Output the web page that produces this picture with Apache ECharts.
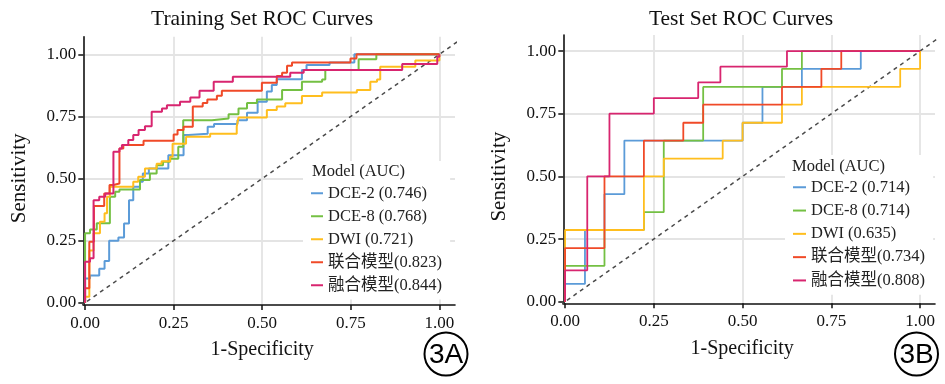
<!DOCTYPE html>
<html><head><meta charset="utf-8">
<script src="https://cdn.jsdelivr.net/npm/echarts@6/dist/echarts.min.js"></script>
<style>html,body{margin:0;padding:0;background:#fff}#c{width:945px;height:384px}</style>
</head><body><div id="c"></div>
<script>
// ---------- DATA ----------
const tickValues = [0, 0.25, 0.5, 0.75, 1];
const trainNames = ['DCE-2 (0.746)', 'DCE-8 (0.768)', 'DWI (0.721)', '联合模型(0.823)', '融合模型(0.844)'];
const testNames  = ['DCE-2 (0.714)', 'DCE-8 (0.714)', 'DWI (0.635)', '联合模型(0.734)', '融合模型(0.808)'];

// Training set ROC corner points (FPR, TPR) after each vertical rise
const trainFprDCE2 = [0, 0, 0.014, 0.040, 0.055, 0.068, 0.094, 0.110, 0.124, 0.136, 0.155, 0.163, 0.180, 0.235, 0.278, 0.292, 0.346, 0.364, 0.430, 0.457, 0.487, 0.513, 0.527, 0.541, 0.612, 0.625, 0.690, 0.760, 1.0];
const trainTprDCE2 = [0, 0.098, 0.110, 0.137, 0.168, 0.250, 0.263, 0.319, 0.413, 0.467, 0.487, 0.520, 0.540, 0.594, 0.675, 0.680, 0.709, 0.720, 0.735, 0.765, 0.809, 0.850, 0.877, 0.900, 0.937, 0.957, 0.967, 1.0, 1.0];
const trainFprDCE8 = [0, 0, 0.014, 0.033, 0.070, 0.085, 0.097, 0.155, 0.183, 0.202, 0.220, 0.240, 0.263, 0.277, 0.358, 0.405, 0.433, 0.457, 0.485, 0.556, 0.612, 0.669, 0.678, 0.772, 0.822, 1.0];
const trainTprDCE8 = [0, 0.280, 0.295, 0.320, 0.427, 0.447, 0.456, 0.494, 0.520, 0.554, 0.568, 0.580, 0.628, 0.735, 0.742, 0.759, 0.782, 0.804, 0.818, 0.856, 0.890, 0.899, 0.937, 0.980, 1.0, 1.0];
const trainFprDWI  = [0, 0, 0.012, 0.024, 0.042, 0.055, 0.062, 0.070, 0.136, 0.150, 0.169, 0.202, 0.216, 0.240, 0.247, 0.285, 0.353, 0.428, 0.433, 0.513, 0.541, 0.565, 0.612, 0.669, 0.767, 0.805, 0.824, 0.833, 0.932, 1.0];
const trainTprDWI  = [0, 0.024, 0.210, 0.280, 0.326, 0.360, 0.427, 0.467, 0.487, 0.507, 0.540, 0.560, 0.570, 0.588, 0.640, 0.668, 0.680, 0.709, 0.746, 0.776, 0.790, 0.803, 0.832, 0.846, 0.856, 0.890, 0.899, 0.950, 0.975, 1.0];
const trainFprComb = [0, 0, 0.012, 0.025, 0.054, 0.069, 0.080, 0.097, 0.108, 0.165, 0.250, 0.261, 0.278, 0.304, 0.332, 0.345, 0.372, 0.386, 0.499, 0.541, 0.556, 0.570, 0.584, 0.749, 0.766, 1.0];
const trainTprComb = [0, 0.058, 0.246, 0.390, 0.440, 0.474, 0.480, 0.621, 0.635, 0.652, 0.677, 0.695, 0.709, 0.790, 0.804, 0.818, 0.833, 0.853, 0.886, 0.913, 0.926, 0.954, 0.967, 0.983, 1.0, 1.0];
const trainFprFuse = [0, 0, 0.014, 0.024, 0.040, 0.057, 0.080, 0.097, 0.104, 0.122, 0.136, 0.151, 0.169, 0.188, 0.217, 0.231, 0.268, 0.297, 0.323, 0.363, 0.417, 0.579, 0.617, 0.895, 0.994, 1.0];
const trainTprFuse = [0, 0.165, 0.179, 0.413, 0.427, 0.440, 0.608, 0.621, 0.635, 0.655, 0.675, 0.695, 0.711, 0.769, 0.782, 0.795, 0.809, 0.826, 0.853, 0.890, 0.910, 0.926, 0.937, 0.961, 0.990, 1.0];

// Test set ROC corner points
const testFprDCE2 = [0, 0, 0.056, 0.111, 0.167, 0.500, 0.556, 0.667, 0.833, 1.0];
const testTprDCE2 = [0, 0.071, 0.286, 0.429, 0.643, 0.714, 0.857, 0.929, 1.0, 1.0];
const testFprDCE8 = [0, 0, 0.111, 0.222, 0.278, 0.389, 0.611, 0.667, 1.0];
const testTprDCE8 = [0, 0.143, 0.286, 0.357, 0.643, 0.857, 0.929, 1.0, 1.0];
const testFprDWI  = [0, 0, 0.222, 0.278, 0.444, 0.500, 0.611, 0.667, 0.944, 1.0];
const testTprDWI  = [0, 0.286, 0.500, 0.571, 0.643, 0.714, 0.786, 0.857, 0.929, 1.0];
const testFprComb = [0, 0, 0.111, 0.222, 0.333, 0.389, 0.611, 0.722, 0.778, 1.0];
const testTprComb = [0, 0.214, 0.500, 0.643, 0.714, 0.786, 0.857, 0.929, 1.0, 1.0];
const testFprFuse = [0, 0, 0.0625, 0.125, 0.250, 0.375, 0.4375, 0.625, 1.0];
const testTprFuse = [0, 0.125, 0.500, 0.750, 0.8125, 0.875, 0.9375, 1.0, 1.0];

const diagonal = [[-0.05, -0.05], [1.05, 1.05]];

// ---------- CHART ----------
const colors = ['#5B9BD8', '#74C043', '#FFBE1E', '#F04A28', '#D8256F'];
const serif = '"Liberation Serif", "Times New Roman", "Noto Sans CJK SC", serif';
const pts = (f, t) => f.map((v, i) => [v, t[i]]);

const trainSets = [[trainFprDCE2, trainTprDCE2], [trainFprDCE8, trainTprDCE8], [trainFprDWI, trainTprDWI], [trainFprComb, trainTprComb], [trainFprFuse, trainTprFuse]];
const testSets = [[testFprDCE2, testTprDCE2], [testFprDCE8, testTprDCE8], [testFprDWI, testTprDWI], [testFprComb, testTprComb], [testFprFuse, testTprFuse]];

function xAxisOf(gi, max) {
  return {
    type: 'value', gridIndex: gi, min: -0.005, max: max,
    name: '1-Specificity', nameLocation: 'middle', nameGap: 35,
    nameTextStyle: { fontFamily: serif, fontSize: 20, color: '#111', padding: [0, 14, 0, 0] },
    axisLine: { show: true, onZero: false, lineStyle: { color: '#111', width: 1.6 } },
    axisTick: { show: true, length: 5, customValues: tickValues, lineStyle: { color: '#111', width: 1.5 } },
    axisLabel: { customValues: tickValues, formatter: v => v.toFixed(2), fontFamily: serif, fontSize: 17, color: '#111', margin: 10 },
    splitLine: { show: true, showMinLine: false, lineStyle: { color: '#E4E4E4', width: 1.8 } }
  };
}
function yAxisOf(gi, min, max) {
  return {
    type: 'value', gridIndex: gi, min: min, max: max,
    name: 'Sensitivity', nameLocation: 'middle', nameGap: 53,
    nameTextStyle: { fontFamily: serif, fontSize: 21, color: '#111', padding: [0, 15, 0, 0] },
    axisLine: { show: true, onZero: false, lineStyle: { color: '#111', width: 1.6 } },
    axisTick: { show: true, length: 5, customValues: tickValues, lineStyle: { color: '#111', width: 1.5 } },
    axisLabel: { customValues: tickValues, formatter: v => v.toFixed(2), fontFamily: serif, fontSize: 17, color: '#111', margin: 7 },
    splitLine: { show: true, showMinLine: false, lineStyle: { color: '#E4E4E4', width: 1.8 } }
  };
}

const series = [];
[0, 1].forEach(gi => {
  series.push({
    type: 'line', xAxisIndex: gi, yAxisIndex: gi, data: diagonal, symbol: 'none', clip: false,
    silent: true, lineStyle: { type: [4, 4], color: '#4a4a4a', width: 1.5 }, z: 1
  });
});
trainSets.forEach((s, i) => series.push({
  name: trainNames[i], type: 'line', xAxisIndex: 0, yAxisIndex: 0, step: 'end', symbol: 'none',
  data: pts(s[0], s[1]), color: colors[i], lineStyle: { width: 2, color: colors[i] }, z: 2 + i
}));
testSets.forEach((s, i) => series.push({
  name: testNames[i], type: 'line', xAxisIndex: 1, yAxisIndex: 1, step: 'end', symbol: 'none',
  data: pts(s[0], s[1]), color: colors[i], lineStyle: { width: 1.8, color: colors[i] }, z: 2 + i
}));

const legendBase = {
  orient: 'vertical', icon: 'rect', itemHeight: 2, itemGap: 6.5,
  backgroundColor: '#fff', padding: [24, 8, 6, 8], selectedMode: false,
  textStyle: { fontFamily: serif, fontSize: 16.5, color: '#222', lineHeight: 16 }
};

const option = {
  animation: false,
  backgroundColor: '#fff',
  grid: [
    { left: 83.3, top: 36.7, width: 371.7, height: 268.3 },
    { left: 563.3, top: 35, width: 371.7, height: 268.3 }
  ],
  xAxis: [xAxisOf(0, 1.044), xAxisOf(1, 1.042)],
  yAxis: [yAxisOf(0, -0.009, 1.071), yAxisOf(1, -0.0064, 1.064)],
  legend: [
    Object.assign({}, legendBase, { data: trainNames, left: 303, top: 161, itemWidth: 12 }),
    Object.assign({}, legendBase, { data: testNames, left: 785, top: 155, itemWidth: 13, itemGap: 6.8 })
  ],
  graphic: [
    { type: 'text', z: 100, style: { text: 'Training Set ROC Curves', x: 262, y: 19, align: 'center', verticalAlign: 'middle', font: '21.5px ' + serif, fill: '#111' } },
    { type: 'text', z: 100, style: { text: 'Test Set ROC Curves', x: 741, y: 19, align: 'center', verticalAlign: 'middle', font: '21.5px ' + serif, fill: '#111' } },
    { type: 'text', z: 100, style: { text: 'Model (AUC)', x: 312, y: 172, align: 'left', verticalAlign: 'middle', font: '16.5px ' + serif, fill: '#222' } },
    { type: 'text', z: 100, style: { text: 'Model (AUC)', x: 792, y: 167, align: 'left', verticalAlign: 'middle', font: '16.5px ' + serif, fill: '#222' } },
    { type: 'circle', z: 100, shape: { cx: 446, cy: 354, r: 21.5 }, style: { fill: 'none', stroke: '#000', lineWidth: 2 } },
    { type: 'text', z: 100, style: { text: '3A', x: 446, y: 355, align: 'center', verticalAlign: 'middle', font: '28px "Liberation Sans", Arial, sans-serif', fill: '#000' } },
    { type: 'circle', z: 100, shape: { cx: 916.5, cy: 354, r: 21.5 }, style: { fill: 'none', stroke: '#000', lineWidth: 2 } },
    { type: 'text', z: 100, style: { text: '3B', x: 916.5, y: 355, align: 'center', verticalAlign: 'middle', font: '28px "Liberation Sans", Arial, sans-serif', fill: '#000' } }
  ],
  series: series
};

const chart = echarts.init(document.getElementById('c'), null, { renderer: 'canvas' });
chart.setOption(option);
</script>
</body></html>
